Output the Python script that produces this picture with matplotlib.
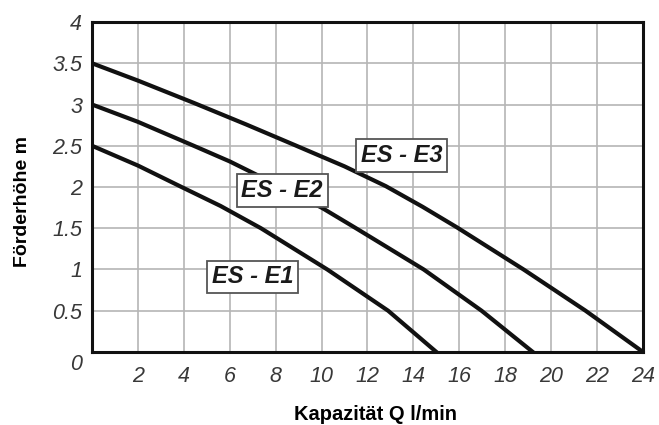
import matplotlib
matplotlib.use('Agg')
import matplotlib.pyplot as plt
import matplotlib.transforms as mtransforms

plt.rcParams['font.family'] = ['Liberation Sans', 'DejaVu Sans']

# pump curves (Q in l/min, head in m)
q_e1 = [0, 2, 3.9, 5.6, 7.36, 10.25, 12.9, 15.0]
h_e1 = [2.5, 2.26, 2.0, 1.77, 1.5, 1.0, 0.5, 0.0]

q_e2 = [0, 2, 4.43, 6, 8.1, 10, 11.5, 14.45, 16.97, 19.2]
h_e2 = [3.0, 2.79, 2.5, 2.31, 2.02, 1.75, 1.5, 1.0, 0.5, 0.0]

q_e3 = [0, 2, 4.43, 6.7, 8.9, 11.0, 12.8, 14.4, 15.9, 18.8, 21.5, 24.0]
h_e3 = [3.5, 3.29, 3.02, 2.76, 2.5, 2.25, 2.01, 1.76, 1.51, 1.0, 0.5, 0.0]

labels = ['ES - E1', 'ES - E2', 'ES - E3']
label_pos = [(6.99, 0.91), (8.28, 1.96), (13.5, 2.38)]

x_ticks = [2, 4, 6, 8, 10, 12, 14, 16, 18, 20, 22, 24]
y_ticks = [0, 0.5, 1, 1.5, 2, 2.5, 3, 3.5, 4]
y_ticklabels = ['0', '0.5', '1', '1.5', '2', '2.5', '3', '3.5', '4']

fig = plt.figure(figsize=(6.59, 4.25), dpi=100)
ax = fig.add_axes([0.1396, 0.1718, 0.8361, 0.7764])

for q, h in [(q_e1, h_e1), (q_e2, h_e2), (q_e3, h_e3)]:
    ax.plot(q, h, color='#111111', lw=3.0, solid_joinstyle='round', zorder=3)

for txt, (x, y) in zip(labels, label_pos):
    ax.text(x, y, txt, fontsize=17, fontweight='bold', fontstyle='italic',
            color='#1a1a1a', ha='center', va='center', zorder=5,
            bbox=dict(boxstyle='square,pad=0.2', fc='white', ec='#555555', lw=1.3))

ax.set_xlim(0, 24)
ax.set_ylim(0, 4)
ax.set_xticks(x_ticks)
ax.set_yticks(y_ticks)
ax.set_yticklabels(y_ticklabels)
ax.grid(True, color='#b5b5b5', lw=1.2, zorder=0)
ax.tick_params(length=0, labelsize=15.5, labelcolor='#383838', pad=7)
ax.tick_params(axis='x', pad=10)
for lab in ax.get_xticklabels() + ax.get_yticklabels():
    lab.set_fontstyle('italic')
for s in ax.spines.values():
    s.set_linewidth(2.2)
    s.set_color('#111111')

# the "0" on the y axis sits a bit lower in the reference
zero = ax.get_yticklabels()[0]
zero.set_transform(zero.get_transform() + mtransforms.ScaledTranslation(0, -0.1, fig.dpi_scale_trans))

ax.set_xlabel('Kapazität Q l/min', fontsize=14.5, fontweight='bold')
ax.set_ylabel('Förderhöhe m', fontsize=14, fontweight='bold')
ax.xaxis.set_label_coords(0.514, -0.16)
ax.yaxis.set_label_coords(-0.11, 0.455)

fig.savefig('out.png', dpi=100)
